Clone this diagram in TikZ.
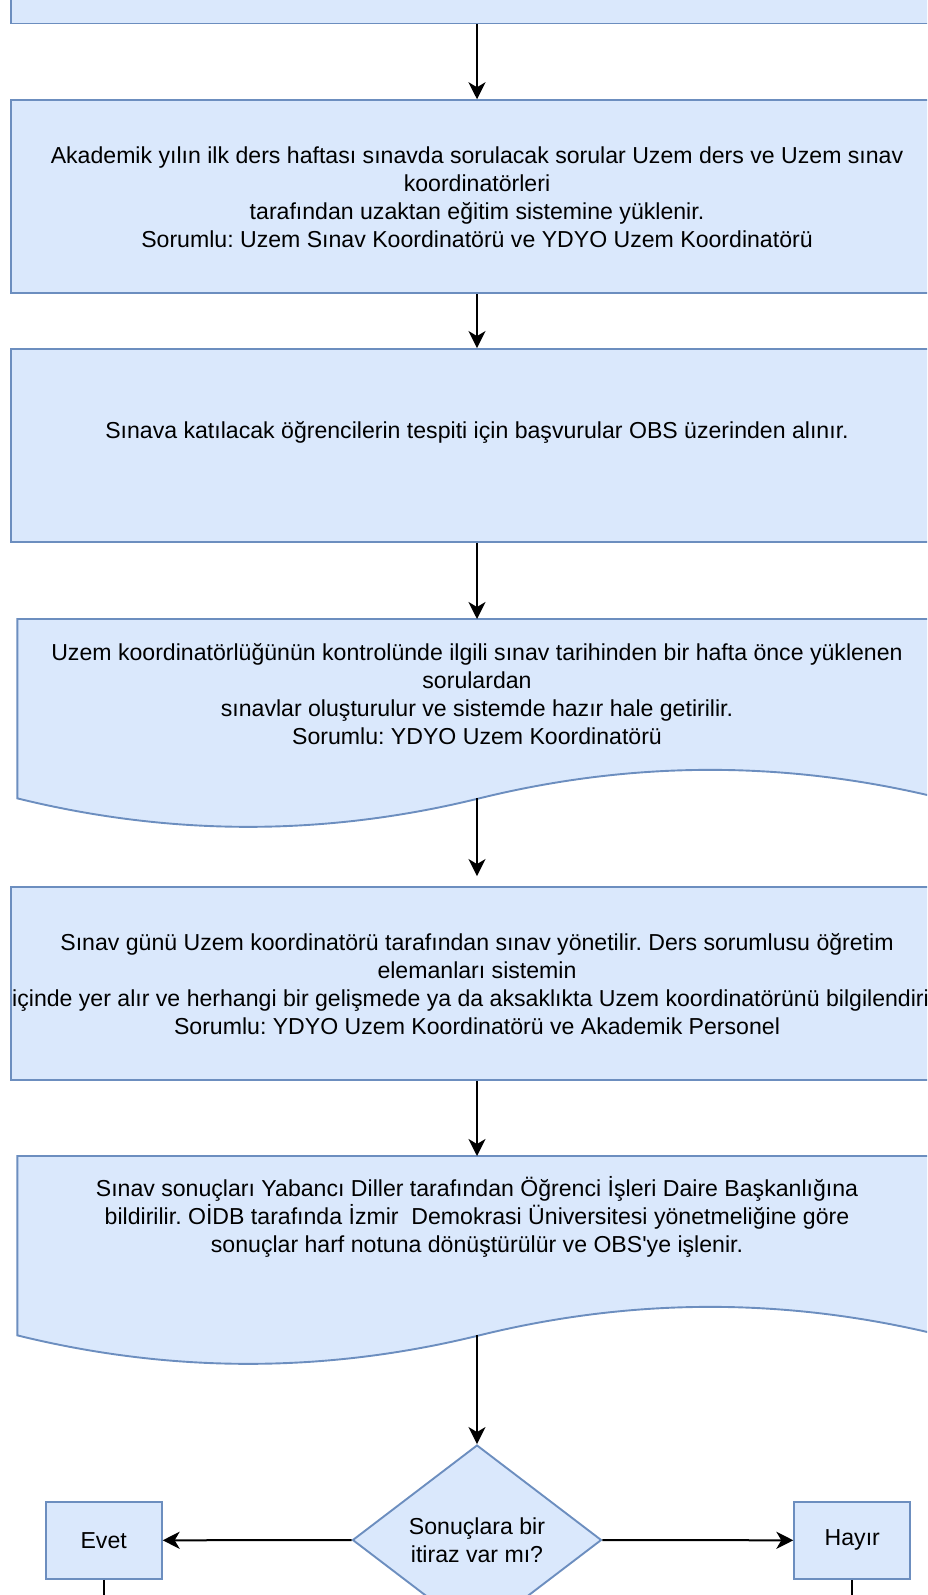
\documentclass[tikz,border=0pt]{standalone}
\usepackage{fontspec}
\setmainfont{Liberation Sans}
\usetikzlibrary{arrows.meta,shapes.geometric}
\definecolor{boxfill}{HTML}{DAE8FC}
\definecolor{boxline}{HTML}{6C8EBF}
\frenchspacing
\tikzset{
  box/.style={draw=boxline, fill=boxfill, line width=1.9pt, minimum width=932pt, minimum height=193pt, inner sep=0pt},
  small/.style={draw=boxline, fill=boxfill, line width=1.9pt, minimum width=116pt, minimum height=77pt, inner sep=0pt, font=\fontsize{23.1}{27.8}\selectfont},
  txt/.style={align=center, inner sep=0pt, font=\fontsize{23.1}{27.8}\selectfont},
  docshape/.style={draw=boxline, fill=boxfill, line width=1.9pt},
  conn/.style={draw=black, line width=2pt, -{Stealth[length=17pt,width=17pt,inset=5pt]}},
  plain/.style={draw=black, line width=2pt}
}
\newcommand{\docpath}[4]{% left, top, width, height
  \pgfmathsetmacro{\dL}{#1}\pgfmathsetmacro{\dT}{#2}\pgfmathsetmacro{\dW}{#3}\pgfmathsetmacro{\dH}{#4}
  \pgfmathsetmacro{\ddy}{0.3*\dH}\pgfmathsetmacro{\dB}{\dT+\dH-\ddy/2}
  \path[docshape] (\dL,\dT) -- (\dL+\dW,\dT) -- (\dL+\dW,\dB)
    .. controls (\dL+5*\dW/6,\dB-0.6*\ddy) and (\dL+2*\dW/3,\dB-0.6*\ddy) .. (\dL+\dW/2,\dB)
    .. controls (\dL+\dW/3,\dB+0.6*\ddy) and (\dL+\dW/6,\dB+0.6*\ddy) .. (\dL,\dB)
    -- cycle;
}
\begin{document}
\begin{tikzpicture}[x=1pt,y=-1pt]
\useasboundingbox (0,0) rectangle (927,1595);
\clip (0,0) rectangle (927,1595);

% boxes
\node[box] (b1) at (477,-73) {};
\node[box] (b2) at (477,196.7) {};
\node[box] (b3) at (477,445.5) {};
\docpath{17.3}{619}{924}{211}
\coordinate (d4top) at (477,619);
\coordinate (d4bot) at (477,798.4);
\node[box] (b5) at (477,983.5) {};
\docpath{17.3}{1156}{924}{211}
\coordinate (d6top) at (477,1156);
\coordinate (d6bot) at (477,1335.4);
\node[diamond, draw=boxline, fill=boxfill, line width=1.9pt, minimum width=249pt, minimum height=190pt, inner sep=0pt, aspect=1.3] (dia) at (477,1540) {};
\node[small] (ev) at (103.7,1540.3) {Evet};
\node[small] (hy) at (852.3,1540.3) {Hayır};

% texts
\node[txt] (t2) at (477,197.4) {Akademik yılın ilk ders haftası sınavda sorulacak sorular Uzem ders ve Uzem sınav\\koordinatörleri\\tarafından uzaktan eğitim sistemine yüklenir.\\Sorumlu: Uzem Sınav Koordinatörü ve YDYO Uzem Koordinatörü};
\node[txt] (t3) at (477,432.5) {Sınava katılacak öğrencilerin tespiti için başvurular OBS üzerinden alınır.};
\node[txt] (t4) at (477,694) {Uzem koordinatörlüğünün kontrolünde ilgili sınav tarihinden bir hafta önce yüklenen\\sorulardan\\sınavlar oluşturulur ve sistemde hazır hale getirilir.\\Sorumlu: YDYO Uzem Koordinatörü};
\node[txt] (t5) at (477,984) {Sınav günü Uzem koordinatörü tarafından sınav yönetilir. Ders sorumlusu öğretim\\elemanları sistemin\\içinde yer alır ve herhangi bir gelişmede ya da aksaklıkta Uzem koordinatörünü bilgilendirir.\\Sorumlu: YDYO Uzem Koordinatörü ve Akademik Personel};
\node[txt] (t6) at (477,1217) {Sınav sonuçları Yabancı Diller tarafından Öğrenci İşleri Daire Başkanlığına\\bildirilir. OİDB tarafında İzmir\ \ Demokrasi Üniversitesi yönetmeliğine göre\\sonuçlar harf notuna dönüştürülür ve OBS\textquotesingle ye işlenir.};
\node[txt] (tdia) at (477,1540) {Sonuçlara bir\\itiraz var mı?};

% connectors
\draw[conn] (b1.south) -- (b2.north);
\draw[conn] (b2.south) -- (b3.north);
\draw[conn] (b3.south) -- (d4top);
\draw[conn] (d4bot) -- ([yshift=10pt]b5.north);
\draw[conn] (b5.south) -- (d6top);
\draw[conn] (d6bot) -- (dia.north);
\draw[conn] (dia.west) -- (ev.east);
\draw[conn] (dia.east) -- (hy.west);
\coordinate (evend) at (103.7,1600);
\coordinate (hyend) at (852.3,1600);
\draw[plain] (ev.south) -- (evend);
\draw[plain] (hy.south) -- (hyend);
\end{tikzpicture}
\end{document}
